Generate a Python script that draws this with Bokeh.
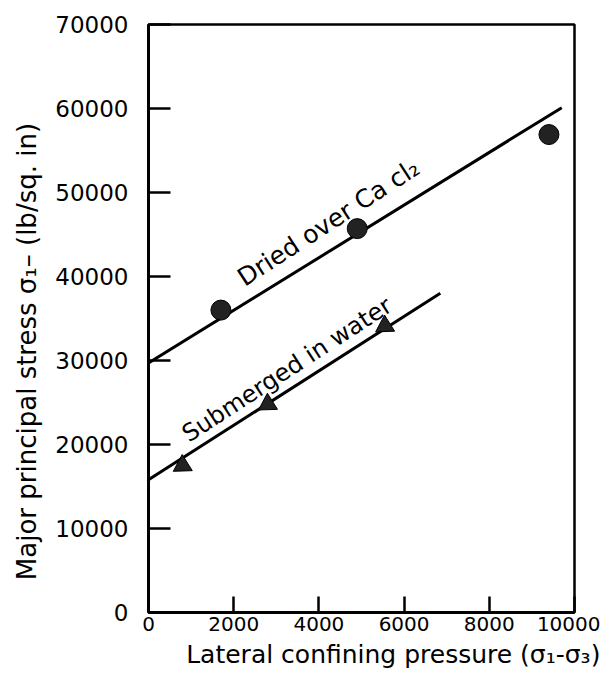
import math
from bokeh.plotting import figure
from bokeh.models import Range1d, FixedTicker
from bokeh.core.properties import value
from bokeh.embed import file_html
from bokeh.resources import INLINE

# data
dried_x = [1700, 4900, 9400]
dried_y = [36000, 45700, 56900]
dried_fit_x = [0, 9700]
dried_fit_y = [29700, 60100]

sub_x = [800, 2800, 5550]
sub_y = [17500, 24800, 34100]
sub_fit_x = [0, 6850]
sub_fit_y = [15800, 38000]

x_ticks = [0, 2000, 4000, 6000, 8000, 10000]
y_ticks = [0, 10000, 20000, 30000, 40000, 50000, 60000, 70000]

x_title = "Lateral confining pressure (σ₁-σ₃)"
y_title = "Major principal stress σ₁– (lb/sq. in)"
dried_label = "Dried over Ca cl₂"
sub_label = "Submerged in water"

FONT = "DejaVu Sans"

p = figure(width=600, height=674, output_backend="svg", toolbar_location=None,
           x_range=Range1d(0, 10000), y_range=Range1d(0, 70000),
           min_border_left=148, min_border_right=26, min_border_top=24, min_border_bottom=62)
p.background_fill_color = "white"
p.border_fill_color = "white"
p.xgrid.visible = False
p.ygrid.visible = False
p.outline_line_color = "black"
p.outline_line_width = 2.5

for ax in (p.xaxis[0], p.yaxis[0]):
    ax.axis_line_width = 3
    ax.axis_line_color = "black"
    ax.major_tick_line_width = 2.5
    ax.minor_tick_line_color = None
    ax.major_label_text_font = FONT
    ax.major_label_text_color = "black"
    ax.axis_label_text_font = FONT
    ax.axis_label_text_font_style = "normal"
    ax.axis_label_text_color = "black"

p.xaxis.ticker = FixedTicker(ticks=x_ticks)
p.yaxis.ticker = FixedTicker(ticks=y_ticks)
p.xaxis.major_label_text_font_size = "20px"
p.yaxis.major_label_text_font_size = "23px"
p.xaxis.major_tick_in = 16
p.xaxis.major_tick_out = 0
p.yaxis.major_tick_in = 22
p.yaxis.major_tick_out = 0
p.xaxis.major_label_standoff = 4
p.yaxis.major_label_standoff = 20
p.xaxis.axis_label = "\u00a0" * 8 + x_title
p.yaxis.axis_label = y_title + "\u00a0" * 8
p.xaxis.axis_label_text_font_size = "25px"
p.yaxis.axis_label_text_font_size = "26px"
p.xaxis.axis_label_standoff = 6
p.yaxis.axis_label_standoff = 10

p.line(dried_fit_x, dried_fit_y, line_color="black", line_width=3)
p.line(sub_fit_x, sub_fit_y, line_color="black", line_width=3)
p.scatter(dried_x, dried_y, marker="circle", size=20, fill_color="#222222", line_color="black")
p.scatter(sub_x, sub_y, marker="triangle", size=19, angle=math.radians(122),
          fill_color="#222222", line_color="black")

p.text(x=[2150], y=[39600], text=[dried_label], angle=math.radians(33),
       text_font=value(FONT), text_font_size="25px", text_align="left",
       text_baseline="alphabetic", text_color="black")
p.text(x=[850], y=[21000], text=[sub_label], angle=math.radians(33),
       text_font=value(FONT), text_font_size="24px", text_align="left",
       text_baseline="alphabetic", text_color="black")

open("out.html", "w").write(file_html(p, INLINE))
